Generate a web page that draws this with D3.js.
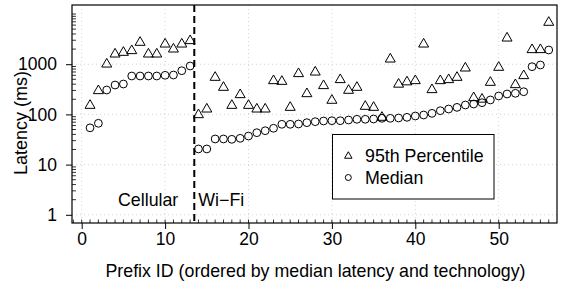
<!DOCTYPE html>
<html><head><meta charset="utf-8">
<script src="https://cdn.jsdelivr.net/npm/d3@7/dist/d3.min.js"></script>
<style>
body{margin:0;background:#fff;}
text{font-family:"Liberation Sans",Arial,Helvetica,sans-serif;fill:#000;}
</style></head>
<body>
<svg id="c" width="567" height="286"></svg>
<script>
const ids = d3.range(1, 57);
const p95 = [161,316,1070,1695,1832,1982,2900,1695,1695,2680,2133,2680,3133,
  105,136,582,368,161,263,161,136,136,500,484,147,690,275,742,398,203,524,321,368,154,147,93,1347,425,473,500,2680,331,500,524,582,892,229,214,463,921,3530,416,629,2074,2074,7260];
const median = [54,66.5,306,385,403,582,582,582,582,601,609,742,921,
  20.5,20.5,32.4,32.4,31.9,33.4,37.1,43.2,47.3,52.9,63.5,63.5,64.4,68.4,71.6,73.9,74.9,74.9,77.3,79.9,79.9,81,83.6,83.6,84.8,87.5,93,97.3,105,118.5,128,138,154,161,171,194,233,255,263,283,892,964,1918];
const xTicks = [0,10,20,30,40,50];
const yTicks = [1,10,100,1000];
const yTickLabels = ["1","10","100","1000"];
const splitAt = 13.5;
const groupLabels = ["Cellular","Wi\u2212Fi"];
const legendLabels = ["95th Percentile","Median"];

const svg = d3.select("#c");
const L = 72, R = 557, T = 5, B = 223;
const x = d3.scaleLinear().domain([0,50]).range([81.7,498.7]);
const y = d3.scaleLog().domain([1,1000]).range([214.8,64.2]);

// grid
const g = svg.append("g");
g.selectAll(".gx").data(xTicks).enter().append("line")
  .attr("x1",d=>x(d)).attr("x2",d=>x(d)).attr("y1",T).attr("y2",B)
  .attr("stroke","#c8c8c8").attr("stroke-width",0.8).attr("stroke-dasharray","1,3");
g.selectAll(".gy").data(yTicks).enter().append("line")
  .attr("x1",L).attr("x2",R).attr("y1",d=>y(d)).attr("y2",d=>y(d))
  .attr("stroke","#c8c8c8").attr("stroke-width",0.8).attr("stroke-dasharray","1,3");

// x axis major
const xAxis = d3.axisBottom(x).tickValues(xTicks).tickSize(6).tickPadding(4).tickFormat(d3.format("d"));
const xa = svg.append("g").attr("transform",`translate(0,${B})`).call(xAxis);
xa.select(".domain").remove();
xa.selectAll("line").attr("stroke","#000").attr("stroke-width",1);
xa.selectAll("text").style("font-size","17.5px").attr("font-family",null).attr("dy","0.71em");

// x minor ticks inward
const xMinor = d3.range(-1, 58).filter(d => x(d) > L+0.5 && x(d) < R-0.5);
svg.selectAll(".xm").data(xMinor).enter().append("line")
  .attr("x1",d=>x(d)).attr("x2",d=>x(d)).attr("y1",B).attr("y2",B-3.5)
  .attr("stroke","#000").attr("stroke-width",0.8);

// y axis major
const yAxis = d3.axisLeft(y).tickValues(yTicks).tickSize(6).tickPadding(9).tickFormat((d,i)=>yTickLabels[i]);
const ya = svg.append("g").attr("transform",`translate(${L},0)`).call(yAxis);
ya.select(".domain").remove();
ya.selectAll("line").attr("stroke","#000").attr("stroke-width",1);
ya.selectAll("text").style("font-size","17.5px").attr("font-family",null);

// y minor ticks inward
const yMinor = [];
[1,10,100,1000].forEach(dec => { for (let k=2;k<=9;k++) yMinor.push(dec*k); });
yMinor.push(10000);
svg.selectAll(".ym").data(yMinor.filter(v=>y(v)>T)).enter().append("line")
  .attr("x1",L).attr("x2",L+4).attr("y1",d=>y(d)).attr("y2",d=>y(d))
  .attr("stroke","#000").attr("stroke-width",0.8);

// split line
svg.append("line").attr("x1",x(splitAt)).attr("x2",x(splitAt)).attr("y1",T).attr("y2",B)
  .attr("stroke","#000").attr("stroke-width",2).attr("stroke-dasharray","7,4");

// group labels
svg.append("text").attr("x",x(splitAt)-16).attr("y",206).attr("text-anchor","end")
  .style("font-size","17.8px").text(groupLabels[0]);
svg.append("text").attr("x",x(splitAt)+4).attr("y",206).attr("text-anchor","start")
  .style("font-size","17.8px").text(groupLabels[1]);

// markers
function tri(cx, cy, s){ const h = s*0.866; return `M${cx},${cy-h/2}L${cx+s/2},${cy+h/2}L${cx-s/2},${cy+h/2}Z`; }
svg.selectAll(".med").data(ids).enter().append("circle")
  .attr("cx",d=>x(d)).attr("cy",(d,i)=>y(median[i])).attr("r",3.9)
  .attr("fill","none").attr("stroke","#000").attr("stroke-width",1);
svg.selectAll(".p95").data(ids).enter().append("path")
  .attr("d",(d,i)=>tri(x(d), y(p95[i]), 10))
  .attr("fill","none").attr("stroke","#000").attr("stroke-width",1);

// box
svg.append("rect").attr("x",L).attr("y",T).attr("width",R-L).attr("height",B-T)
  .attr("fill","none").attr("stroke","#000").attr("stroke-width",1.2);

// legend
const lg = svg.append("g");
lg.append("rect").attr("x",332.5).attr("y",134.5).attr("width",161.5).attr("height",64.5)
  .attr("fill","#fff").attr("stroke","#000").attr("stroke-width",1);
lg.append("path").attr("d",tri(348.3,155,7.5)).attr("fill","none").attr("stroke","#000").attr("stroke-width",1);
lg.append("circle").attr("cx",348.3).attr("cy",177.5).attr("r",3).attr("fill","none").attr("stroke","#000").attr("stroke-width",1);
lg.append("text").attr("x",365).attr("y",162.3).style("font-size","17.8px").text(legendLabels[0]);
lg.append("text").attr("x",365).attr("y",184.3).style("font-size","17.8px").text(legendLabels[1]);

// axis titles
svg.append("text").attr("x",(L+R)/2+1).attr("y",277).attr("text-anchor","middle")
  .style("font-size","17.8px").text("Prefix ID (ordered by median latency and technology)");
svg.append("text").attr("transform","translate(27,123) rotate(-90)").attr("text-anchor","middle")
  .style("font-size","18px").text("Latency (ms)");
</script>
</body></html>
